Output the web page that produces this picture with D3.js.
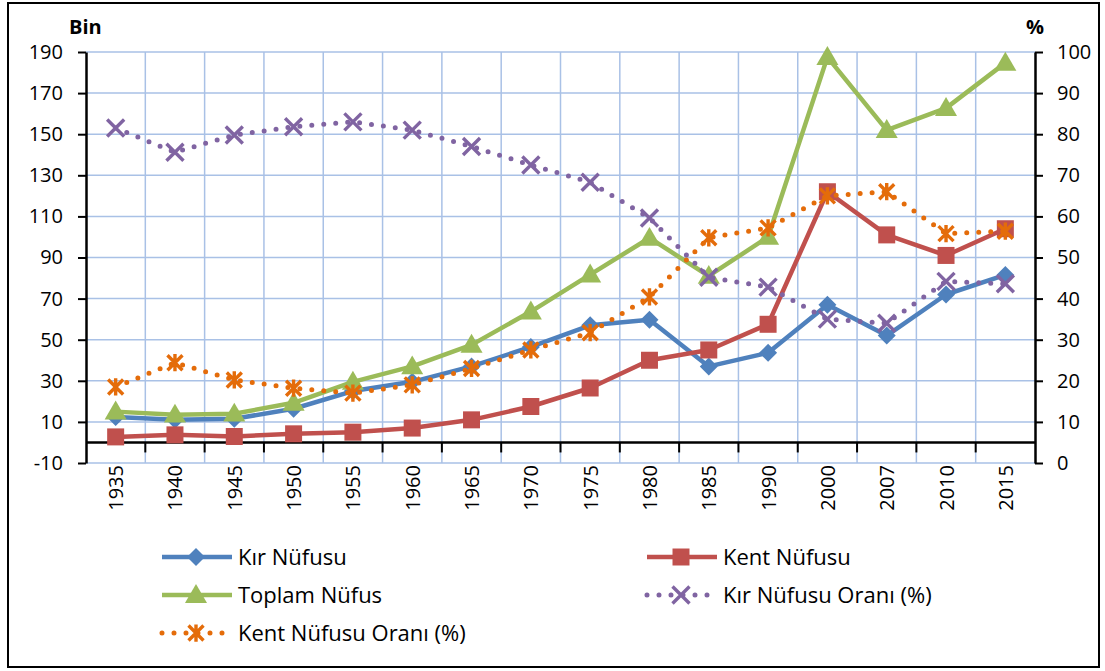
<!DOCTYPE html>
<html>
<head>
<meta charset="utf-8">
<script src="https://cdn.jsdelivr.net/npm/d3@7"></script>
<style>
  body { margin: 0; background: #fff; }
  svg text { font-family: "Open Sans", "Noto Sans", sans-serif; fill: #000; }
</style>
</head>
<body>
<div id="container"></div>
<script>
const years = ["1935","1940","1945","1950","1955","1960","1965","1970","1975","1980","1985","1990","2000","2007","2010","2015"]

// bin (sol eksen)
const kirNufus    = [12.4, 11, 11.5, 16.4, 25, 29.5, 37, 46.5, 57, 59.7, 37, 43.6, 67, 52, 72, 81.5]
const kentNufus   = [2.7, 3.7, 2.9, 4.2, 5, 7, 11, 17.5, 26.5, 40, 45, 57.5, 122, 101, 91, 104]
const toplamNufus = [15, 13.5, 14, 19.3, 29.5, 37, 47.5, 63.7, 81.7, 99.5, 81, 100, 187.5, 152, 162.7, 184.7]

// yüzde (sağ eksen)
const kirOran  = [81.5, 75.6, 79.8, 81.8, 83, 81, 77, 72.5, 68.3, 59.6, 45.2, 42.8, 35, 34, 44.2, 43.6]
const kentOran = [18.5, 24.4, 20.2, 18.2, 17, 19, 23, 27.5, 31.7, 40.4, 54.8, 57.2, 65, 66, 55.8, 56.4]

const leftTicks = d3.range(-10, 191, 20)
const rightTicks = d3.range(0, 101, 10)

const width = 1105
const height = 671
const margin = {top: 52, bottom: 208, left: 86, right: 70}
const fs = 20

const svg = d3.select("#container").append("svg")
    .attr("width", width)
    .attr("height", height)

// dış çerçeve
svg.append("rect")
    .attr("x", 8).attr("y", 3)
    .attr("width", 1091).attr("height", 664)
    .attr("fill", "none").attr("stroke", "#000").attr("stroke-width", 2)

const x = d3.scaleBand()
    .domain(years)
    .range([margin.left, width - margin.right])
const cx = d => x(d) + x.bandwidth() / 2

const yL = d3.scaleLinear()
    .domain([-10, 190])
    .range([height - margin.bottom, margin.top])

const yR = d3.scaleLinear()
    .domain([0, 100])
    .range([height - margin.bottom, margin.top])

const grid = "#a9c1e6"

// yatay ızgara
svg.append("g").selectAll("line")
    .data(leftTicks)
    .join("line")
    .attr("x1", margin.left).attr("x2", width - margin.right)
    .attr("y1", d => yL(d)).attr("y2", d => yL(d))
    .attr("stroke", grid).attr("stroke-width", 1.5)

// dikey ızgara
svg.append("g").selectAll("line")
    .data(years.slice(1))
    .join("line")
    .attr("x1", d => x(d)).attr("x2", d => x(d))
    .attr("y1", margin.top).attr("y2", height - margin.bottom)
    .attr("stroke", grid).attr("stroke-width", 1.5)

// sol eksen
const axL = svg.append("g")
    .attr("transform", `translate(${margin.left},0)`)
    .call(d3.axisLeft(yL).tickValues(leftTicks).tickSize(8).tickSizeOuter(0).tickFormat(d => String(d)))
axL.select(".domain").attr("stroke-width", 2.5)
axL.selectAll(".tick line").attr("stroke-width", 2)
axL.selectAll(".tick text").attr("font-size", fs).attr("x", -23)

// sağ eksen
const axR = svg.append("g")
    .attr("transform", `translate(${width - margin.right},0)`)
    .call(d3.axisRight(yR).tickValues(rightTicks).tickSize(8).tickSizeOuter(0))
axR.select(".domain").attr("stroke-width", 2.5)
axR.selectAll(".tick line").attr("stroke-width", 2)
axR.selectAll(".tick text").attr("font-size", fs).attr("x", 22)

// yatay eksen (0 çizgisi)
svg.append("line")
    .attr("x1", margin.left).attr("x2", width - margin.right)
    .attr("y1", yL(0)).attr("y2", yL(0))
    .attr("stroke", "#000").attr("stroke-width", 2.5)
svg.append("g").selectAll("line")
    .data(years.slice(1))
    .join("line")
    .attr("x1", d => x(d)).attr("x2", d => x(d))
    .attr("y1", yL(0)).attr("y2", yL(0) + 10)
    .attr("stroke", "#000").attr("stroke-width", 2)

// yıl etiketleri
svg.append("g").selectAll("text")
    .data(years)
    .join("text")
    .attr("transform", d => `translate(${cx(d) + 7.5},${height - margin.bottom + 2}) rotate(-90)`)
    .attr("text-anchor", "end")
    .attr("font-size", fs)
    .text(d => d)

svg.append("text").attr("x", 69).attr("y", 34)
    .attr("font-size", 20).attr("font-weight", "bold").text("Bin")
svg.append("text").attr("x", 1026).attr("y", 34)
    .attr("font-size", 20).attr("font-weight", "bold").text("%")

// işaret şekilleri
const shapes = {
    diamond: r => `M0,${-r}L${r},0L0,${r}L${-r},0Z`,
    square: r => `M${-r},${-r}H${r}V${r}H${-r}Z`,
    triangle: r => `M0,${-r * 1.05}L${r * 1.05},${r * 0.75}L${-r * 1.05},${r * 0.75}Z`,
    cross: r => `M${-r},${-r}L${r},${r}M${-r},${r}L${r},${-r}`,
    star: r => `M${-r},${-r}L${r},${r}M${-r},${r}L${r},${-r}M0,${-r * 1.15}L0,${r * 1.15}`
}

const series = [
    {name: "Kır Nüfusu", values: kirNufus, y: yL, color: "#4f81bd", shape: "diamond", r: 9, dotted: false, fillMark: true},
    {name: "Kent Nüfusu", values: kentNufus, y: yL, color: "#c0504d", shape: "square", r: 8.5, dotted: false, fillMark: true},
    {name: "Toplam Nüfus", values: toplamNufus, y: yL, color: "#9bbb59", shape: "triangle", r: 10.5, dotted: false, fillMark: true},
    {name: "Kır Nüfusu Oranı (%)", values: kirOran, y: yR, color: "#8064a2", shape: "cross", r: 8.5, dotted: true, fillMark: false},
    {name: "Kent Nüfusu Oranı (%)", values: kentOran, y: yR, color: "#e46c0a", shape: "star", r: 7.5, dotted: true, fillMark: false}
]

function drawMark(g, s) {
    g.attr("d", shapes[s.shape](s.r))
    if (s.fillMark) {
        g.attr("fill", s.color).attr("stroke", "none")
    } else {
        g.attr("fill", "none").attr("stroke", s.color).attr("stroke-width", 3.4)
    }
}

function lineStyle(p, s) {
    p.attr("fill", "none").attr("stroke", s.color)
    if (s.dotted) {
        p.attr("stroke-width", 5).attr("stroke-linecap", "round").attr("stroke-dasharray", "0 12")
    } else {
        p.attr("stroke-width", 4.5).attr("stroke-linejoin", "round")
    }
}

series.forEach(s => {
    const line = d3.line()
        .x((d, i) => cx(years[i]))
        .y(d => s.y(d))
    svg.append("path")
        .datum(s.values)
        .attr("d", line)
        .call(lineStyle, s)
    svg.append("g").selectAll("path")
        .data(s.values)
        .join("path")
        .attr("transform", (d, i) => `translate(${cx(years[i])},${s.y(d)})`)
        .each(function() { drawMark(d3.select(this), s) })
})

// lejant
const legendPos = [
    {x: 160, y: 557}, {x: 645, y: 557},
    {x: 160, y: 595}, {x: 645, y: 595},
    {x: 160, y: 633}
]
series.forEach((s, i) => {
    const g = svg.append("g").attr("transform", `translate(${legendPos[i].x},${legendPos[i].y})`)
    g.append("path").attr("d", "M2,0H72").call(lineStyle, s)
    g.append("path").attr("transform", "translate(36,0)").call(drawMark, s)
    g.append("text").attr("x", 78).attr("y", 0).attr("dy", "0.36em")
        .attr("font-size", 22).text(s.name)
})
</script>
</body>
</html>
